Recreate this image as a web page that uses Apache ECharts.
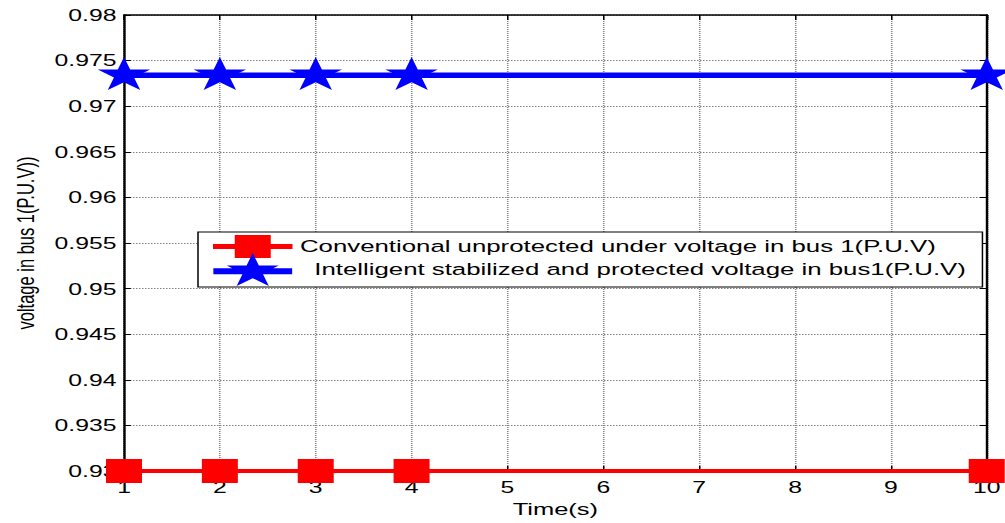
<!DOCTYPE html>
<html>
<head>
<meta charset="utf-8">
<script src="https://cdn.jsdelivr.net/npm/echarts@6/dist/echarts.min.js"></script>
<style>
  html, body { margin: 0; padding: 0; background: #fff; overflow: hidden; }
  #wrap { width: 1005px; height: 523px; overflow: hidden; }
  #chart { width: 670px; height: 523px; transform: scaleX(1.5); transform-origin: 0 0; }
</style>
</head>
<body>
<div id="wrap"><div id="chart"></div></div>
<script>
// ---- data ----
const timeS = [1, 2, 3, 4, 10];
const conventional = [0.93, 0.93, 0.93, 0.93, 0.93];
const intelligent = [0.9734, 0.9734, 0.9734, 0.9734, 0.9734];
const seriesNames = [
  'Conventional unprotected under voltage in bus 1(P.U.V)',
  '  Intelligent stabilized and protected voltage in bus1(P.U.V)'
];
const xTicks = [1, 2, 3, 4, 5, 6, 7, 8, 9, 10];
const yTicks = [0.93, 0.935, 0.94, 0.945, 0.95, 0.955, 0.96, 0.965, 0.97, 0.975, 0.98];
const xTitle = 'Time(s)';
const yTitle = 'voltage in bus 1(P.U.V))';

// ---- shapes ----
const STAR = 'path://M95,0L117.45,69.1L190.1,69.1L131.3,111.8L153.8,180.9L95,138.2L36.2,180.9L58.7,111.8L0,69.1L72.55,69.1Z';
const LEG_SQUARE = 'path://M0,9L53,9L53,14L0,14ZM14.5,0L38.5,0L38.5,23L14.5,23Z';
const LEG_STAR = 'path://M0,15.4L53,15.4L53,21.4L0,21.4Z' +
  'M26.48,0L30.61,12.71L43.98,12.71L33.16,20.57L37.3,33.29L26.48,25.43L15.66,33.29L19.8,20.57L8.98,12.71L22.35,12.71Z';

const FONT = 'Liberation Sans';
const fmtY = v => String(parseFloat(v.toFixed(3)));

const chart = echarts.init(document.getElementById('chart'), null, { renderer: 'svg' });

const gridLine = { show: true, lineStyle: { color: '#808080', type: 'dotted', width: 1 } };

chart.setOption({
  animation: false,
  backgroundColor: '#fff',
  grid: { left: 82.67, right: 8.67, top: 15, bottom: 51, containLabel: false },
  legend: {
    orient: 'vertical',
    left: 132,
    top: 232,
    itemWidth: 53,
    itemHeight: 33,
    itemGap: -5,
    padding: [3, 11, 1, 10],
    backgroundColor: '#fff',
    borderColor: '#000',
    borderWidth: 1,
    selectedMode: false,
    data: [
      { name: seriesNames[0], icon: LEG_SQUARE },
      { name: seriesNames[1], icon: LEG_STAR }
    ],
    textStyle: { fontFamily: FONT, fontSize: 17.2, color: '#000' }
  },
  xAxis: [
    {
      type: 'value', position: 'bottom',
      min: xTicks[0], max: xTicks[xTicks.length - 1], interval: 1,
      name: xTitle, nameLocation: 'middle', nameGap: 27,
      nameTextStyle: { fontFamily: FONT, fontSize: 17, color: '#000' },
      axisLine: { show: true, onZero: false, lineStyle: { color: '#000', width: 1.5 } },
      axisTick: { show: true, inside: true, length: 5, lineStyle: { color: '#000' } },
      axisLabel: { fontFamily: FONT, fontSize: 16.5, color: '#000', margin: 8 },
      splitLine: gridLine
    },
    {
      type: 'value', position: 'top',
      min: xTicks[0], max: xTicks[xTicks.length - 1], interval: 1,
      axisLine: { show: true, onZero: false, lineStyle: { color: '#000', width: 1.5 } },
      axisTick: { show: true, inside: true, length: 5, lineStyle: { color: '#000' } },
      axisLabel: { show: false },
      splitLine: { show: false }
    }
  ],
  yAxis: [
    {
      type: 'value', position: 'left',
      min: yTicks[0], max: yTicks[yTicks.length - 1], interval: 0.005,
      name: yTitle, nameLocation: 'middle', nameGap: 57, nameRotate: 90,
      nameTextStyle: { fontFamily: FONT, fontSize: 16.5, color: '#000' },
      axisLine: { show: true, onZero: false, lineStyle: { color: '#000', width: 1.6 } },
      axisTick: { show: true, inside: true, length: 4.5, lineStyle: { color: '#000' } },
      axisLabel: { fontFamily: FONT, fontSize: 16.5, color: '#000', margin: 5, formatter: fmtY },
      splitLine: gridLine
    },
    {
      type: 'value', position: 'right',
      min: yTicks[0], max: yTicks[yTicks.length - 1], interval: 0.005,
      axisLine: { show: true, onZero: false, lineStyle: { color: '#000', width: 1.6 } },
      axisTick: { show: true, inside: true, length: 4.5, lineStyle: { color: '#000' } },
      axisLabel: { show: false },
      splitLine: { show: false }
    }
  ],
  series: [
    {
      name: seriesNames[0],
      type: 'line',
      data: timeS.map((t, i) => [t, conventional[i]]),
      color: '#ff0000',
      lineStyle: { color: '#ff0000', width: 4 },
      itemStyle: { color: '#ff0000' },
      symbol: 'rect', symbolSize: [24, 24],
      showAllSymbol: true, clip: false, z: 5
    },
    {
      name: seriesNames[1],
      type: 'line',
      data: timeS.map((t, i) => [t, intelligent[i]]),
      color: '#0000ff',
      lineStyle: { color: '#0000ff', width: 5.5 },
      itemStyle: { color: '#0000ff' },
      symbol: STAR, symbolSize: [35, 33], symbolOffset: [0, -1.7],
      showAllSymbol: true, clip: false, z: 5
    }
  ]
});
</script>
</body>
</html>
